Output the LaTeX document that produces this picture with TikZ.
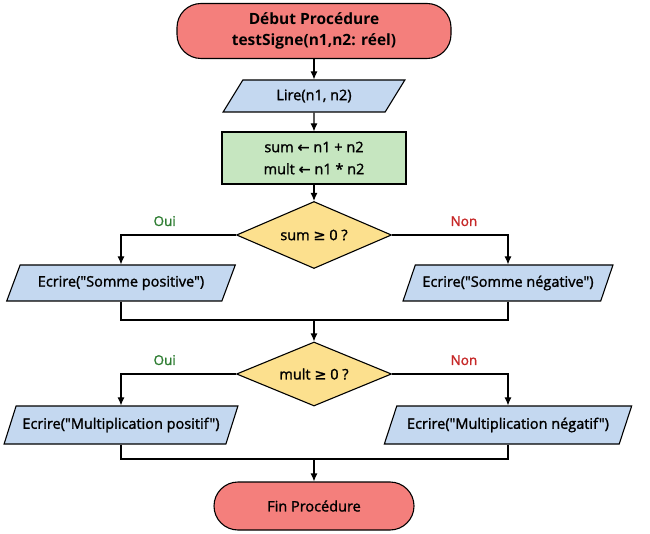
\documentclass[tikz,border=0pt]{standalone}
\usepackage{fontspec}
\setmainfont{Open Sans}
\newfontfamily\semifont{Open Sans}[FakeBold=1.5]
\newfontfamily\symfont{DejaVu Sans}[FakeBold=1.3]
\usepackage{xcolor}
\usepackage{tikz}
\usetikzlibrary{arrows.meta,shapes.geometric,positioning}

\definecolor{rougedebut}{HTML}{F47F7C}
\definecolor{bleuio}{HTML}{C4D8F0}
\definecolor{vertcalc}{HTML}{C6E6C0}
\definecolor{jaunetest}{HTML}{FCE08E}
\definecolor{vertoui}{HTML}{2E7D32}
\definecolor{rougenon}{HTML}{C62828}

\tikzset{
  trait/.style={line width=1.1pt},
  terminal/.style={draw,trait,fill=rougedebut,rounded corners=24pt,align=center},
  entree/.style={draw,trait,fill=bleuio,trapezium,trapezium left angle=62,
    trapezium right angle=118,trapezium stretches=true,inner xsep=0pt},
  calcul/.style={draw,trait,fill=vertcalc,align=center},
  test/.style={draw,trait,fill=jaunetest,diamond,aspect=2.3,inner sep=0pt},
  fleche/.style={trait,-{Latex[length=8pt,width=7pt]}},
  lien/.style={trait},
  oui/.style={text=vertoui,above=5pt,font=\semifont\fontsize{13.5}{15}\selectfont},
  non/.style={text=rougenon,above=5pt,font=\semifont\fontsize{13.5}{15}\selectfont}
}

\begin{document}
\begin{tikzpicture}[x=1pt,y=-1pt,font=\semifont\fontsize{14.5}{17}\selectfont]
        \useasboundingbox (0,0) rectangle (650,534);
        % debut
        \node[terminal,minimum width=274,minimum height=55,
          font=\bfseries\fontsize{15.5}{21}\selectfont] (debut) at (314,31)
          {Début Procédure\\testSigne(n1,n2: réel)};
        \node[entree,minimum width=182,minimum height=32] (lire) at (314,96) {Lire(n1, n2)};
        \node[calcul,minimum width=184,minimum height=52,
          font=\semifont\fontsize{14.5}{22}\selectfont] (calc) at (314,158)
          {sum {\symfont ←} n1 + n2\\mult {\symfont ←} n1 * n2};
        % premier test
        \node[test,minimum width=155,minimum height=67] (test1) at (314,235) {sum {\symfont ≥} 0 ?};
        \node[entree,minimum width=229,minimum height=36] (pos1) at (121,283) {Ecrire("Somme positive")};
        \node[entree,minimum width=210,minimum height=36] (neg1) at (508,283) {Ecrire("Somme négative")};
        \coordinate (jonction1) at (314,320);
        % second test
        \node[test,minimum width=155,minimum height=64] (test2) at (314,374) {mult {\symfont ≥} 0 ?};
        \node[entree,minimum width=234,minimum height=38] (pos2) at (121,425) {Ecrire("Multiplication positif")};
        \node[entree,minimum width=248,minimum height=38] (neg2) at (508,425) {Ecrire("Multiplication négatif")};
        \coordinate (jonction2) at (314,459);
        % fin
        \node[terminal,minimum width=200,minimum height=48] (fin) at (314,506) {Fin Procédure};

        \draw[fleche] (debut) -- (lire);
        \draw[fleche] (lire) -- (calc);
        \draw[fleche] (calc) -- (test1);
        \draw[fleche] (test1.west) -| node[oui,pos=0.31]{Oui} (pos1);
        \draw[fleche] (test1.east) -| node[non,pos=0.31]{Non} (neg1);
        \draw[lien] (pos1) |- (jonction1);
        \draw[lien] (neg1) |- (jonction1);
        \draw[fleche] (jonction1) -- (test2);
        \draw[fleche] (test2.west) -| node[oui,pos=0.31]{Oui} (pos2);
        \draw[fleche] (test2.east) -| node[non,pos=0.31]{Non} (neg2);
        \draw[lien] (pos2) |- (jonction2);
        \draw[lien] (neg2) |- (jonction2);
        \draw[fleche] (jonction2) -- (fin);
      \end{tikzpicture}
\end{document}
